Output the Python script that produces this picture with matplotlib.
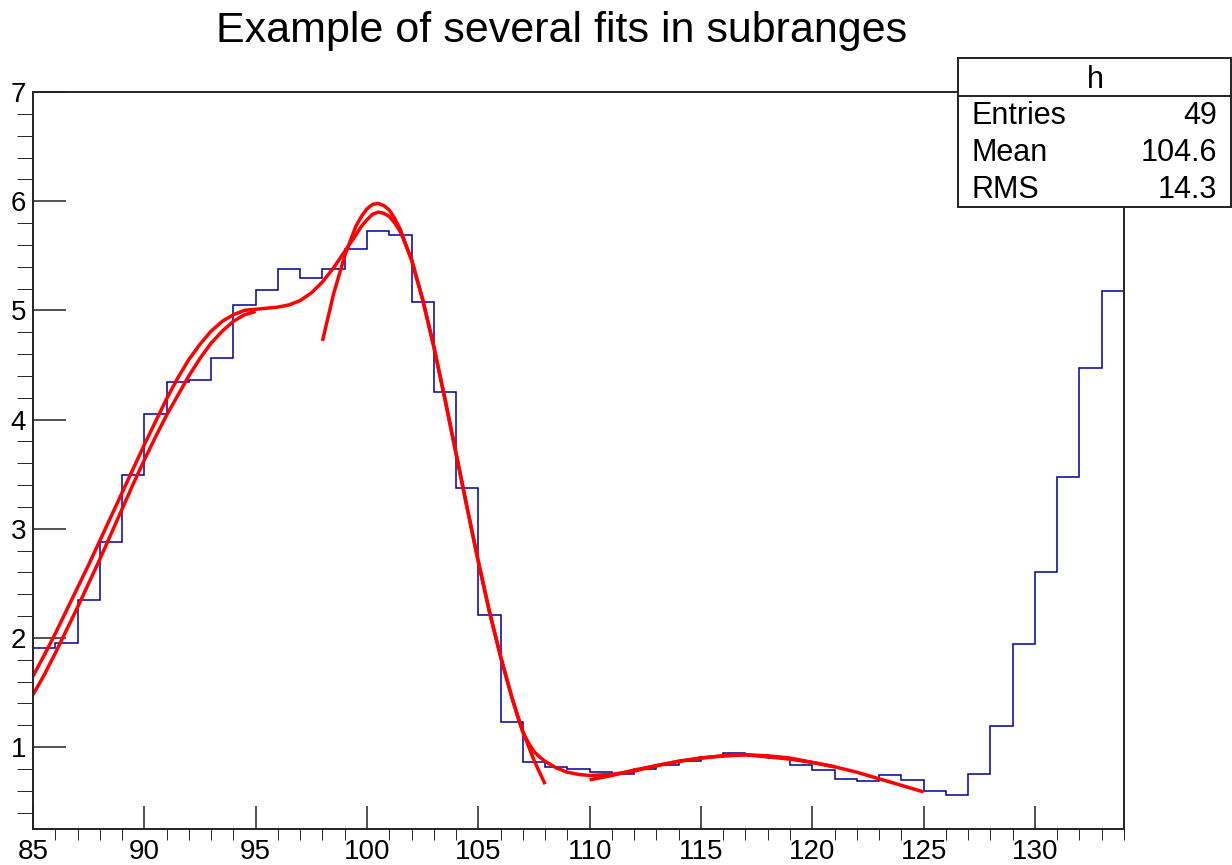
import numpy as np
import matplotlib
matplotlib.use('Agg')
import matplotlib.pyplot as plt
from matplotlib.patches import Rectangle
from matplotlib.lines import Line2D
from matplotlib.ticker import MultipleLocator, FormatStrFormatter

plt.rcParams['font.family'] = ['Liberation Sans', 'DejaVu Sans']

# histogram h : 49 bins from 85 to 134
bin_lo, bin_hi = 85, 134
counts = [1.91, 1.95, 2.35, 2.88, 3.49, 4.05, 4.34, 4.36, 4.56, 5.05,
          5.19, 5.38, 5.30, 5.38, 5.56, 5.73, 5.69, 5.08, 4.25, 3.37,
          2.21, 1.23, 0.86, 0.82, 0.80, 0.77, 0.75, 0.80, 0.84, 0.87,
          0.91, 0.95, 0.93, 0.90, 0.84, 0.79, 0.71, 0.69, 0.74, 0.70,
          0.60, 0.56, 0.75, 1.19, 1.94, 2.60, 3.47, 4.47, 5.18]

# fit curves, values
g1_x = [85, 85.5, 86, 86.5, 87, 87.5, 88, 88.5, 89, 89.5, 90,
        90.5, 91, 91.5, 92, 92.5, 93, 93.5, 94, 94.5, 95]
g1_y = [1.48, 1.66, 1.86, 2.07, 2.28, 2.50, 2.72, 2.95, 3.18, 3.41, 3.63,
        3.84, 4.04, 4.22, 4.40, 4.56, 4.70, 4.81, 4.90, 4.96, 4.99]

g2_x = [98, 98.5, 99, 99.5, 99.75, 100, 100.25, 100.5, 100.75, 101, 101.25,
        101.5, 102, 102.5, 103, 103.5, 104, 104.5, 105, 105.5, 106,
        106.5, 107, 107.5, 108]
g2_y = [4.72, 5.15, 5.50, 5.77, 5.86, 5.93, 5.97, 5.98, 5.96, 5.92, 5.84,
        5.74, 5.46, 5.10, 4.67, 4.19, 3.69, 3.19, 2.70, 2.24, 1.83,
        1.46, 1.14, 0.88, 0.66]

g3_x = [110, 111, 112, 113, 114, 115, 116, 117, 118, 119, 120, 121]
g3_y = [0.70, 0.74, 0.79, 0.83, 0.87, 0.90, 0.92, 0.93, 0.92, 0.90, 0.86, 0.82]

tot_x = [85, 85.5, 86, 86.5, 87, 87.5, 88, 88.5, 89, 89.5, 90,
         90.5, 91, 91.5, 92, 92.5, 93, 93.5, 94, 94.5, 95,
         95.5, 96, 96.5, 97, 97.5, 98, 98.5, 99, 99.5, 99.75,
         100, 100.25, 100.5, 100.75, 101, 101.25, 101.5, 102, 102.5, 103,
         103.5, 104, 104.5, 105, 105.5, 106, 106.5, 106.75, 107, 107.25,
         107.5, 107.75, 108, 108.5, 109, 109.5, 110, 111, 112, 113,
         114, 115, 116, 117, 118, 119, 120, 121, 122, 123, 124, 125]
tot_y = [1.65, 1.84, 2.04, 2.25, 2.46, 2.67, 2.89, 3.11, 3.33, 3.55, 3.77,
         3.98, 4.19, 4.38, 4.55, 4.69, 4.81, 4.90, 4.96, 5.00, 5.01,
         5.02, 5.03, 5.05, 5.09, 5.16, 5.26, 5.39, 5.54, 5.69, 5.77,
         5.83, 5.88, 5.90, 5.89, 5.86, 5.80, 5.72, 5.47, 5.10, 4.67,
         4.19, 3.69, 3.19, 2.70, 2.24, 1.83, 1.46, 1.29, 1.14, 1.04,
         0.96, 0.91, 0.87, 0.81, 0.77, 0.75, 0.74, 0.75, 0.78, 0.83,
         0.87, 0.90, 0.92, 0.93, 0.91, 0.89, 0.86, 0.82, 0.77, 0.71, 0.65, 0.59]

stats_labels = ['Entries', 'Mean', 'RMS']
stats_values = ['49', '104.6', '14.3']

W, H = 1232, 865
fig = plt.figure(figsize=(W / 100, H / 100), dpi=100)
ax = fig.add_axes([33 / W, 1 - 829 / H, (1124 - 33) / W, (829 - 92) / H])

edges = np.linspace(bin_lo, bin_hi, len(counts) + 1)
ax.stairs(counts, edges, baseline=None, color='#000099', lw=1.1)

for xs, ys in [(g1_x, g1_y), (g2_x, g2_y), (g3_x, g3_y), (tot_x, tot_y)]:
    ax.plot(xs, ys, color='red', lw=2.5, solid_capstyle='butt',
            solid_joinstyle='round')

ax.set_xlim(85, 134)
ax.set_ylim(0.25, 7)
ax.xaxis.set_major_locator(MultipleLocator(5))
ax.xaxis.set_minor_locator(MultipleLocator(1))
ax.yaxis.set_major_locator(MultipleLocator(1))
ax.yaxis.set_minor_locator(MultipleLocator(0.2))
ax.xaxis.set_major_formatter(FormatStrFormatter('%d'))
ax.yaxis.set_major_formatter(FormatStrFormatter('%d'))

ax.tick_params(direction='in', top=False, right=False, labelsize=20,
               width=1.1, color='#222222')
ax.tick_params(axis='y', which='major', length=24, pad=5)
ax.tick_params(axis='y', which='minor', length=11.5)
ax.tick_params(axis='x', which='major', length=16.5, pad=7)
ax.tick_params(axis='x', which='minor', length=8)
for s in ax.spines.values():
    s.set_linewidth(1.4)
    s.set_color('#222222')

fig.text(562 / W, 1 - 31 / H, 'Example of several fits in subranges',
         ha='center', va='center', fontsize=31)

# stats box
bx0, bx1, by0, by1 = 958, 1231, 58, 207
fig.add_artist(Rectangle((bx0 / W, 1 - by1 / H), (bx1 - bx0) / W, (by1 - by0) / H,
                         transform=fig.transFigure, facecolor='white',
                         edgecolor='#222222', lw=1.4, zorder=5))
fig.add_artist(Line2D([bx0 / W, bx1 / W], [1 - 96 / H, 1 - 96 / H],
                      transform=fig.transFigure, color='#222222', lw=1.4, zorder=6))
fig.text(1095 / W, 1 - 80 / H, 'h', ha='center', va='center', fontsize=22, zorder=7)
for i, (lab, val) in enumerate(zip(stats_labels, stats_values)):
    yy = 1 - (116 + 37 * i) / H
    fig.text(972 / W, yy, lab, ha='left', va='center', fontsize=22, zorder=7)
    fig.text(1217 / W, yy, val, ha='right', va='center', fontsize=22, zorder=7)

fig.savefig('out.png', dpi=100)
